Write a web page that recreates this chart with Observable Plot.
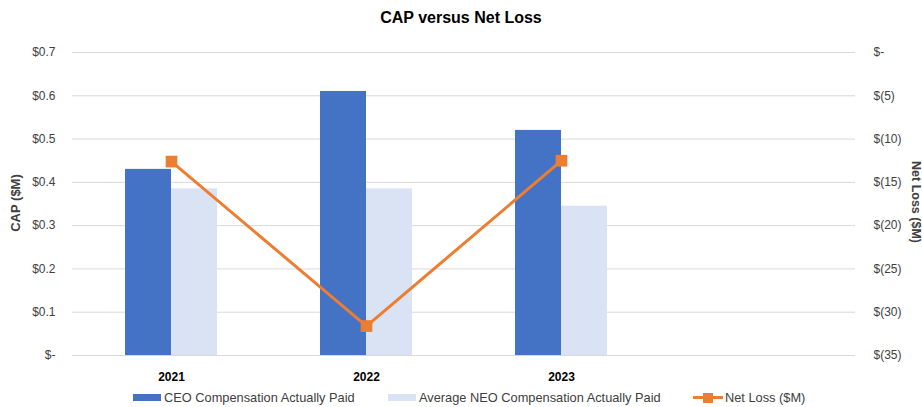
<!DOCTYPE html>
<html>
<head>
<meta charset="utf-8">
<script src="https://cdn.jsdelivr.net/npm/d3@7"></script>
<script src="https://cdn.jsdelivr.net/npm/@observablehq/plot@0.6"></script>
<style>
  html, body { margin: 0; padding: 0; background: #fff; }
  body { width: 922px; height: 407px; position: relative; overflow: hidden; font-family: "Liberation Sans", Arial, sans-serif; color: #404040; }
  #title { position: absolute; top: 0; left: 0; width: 922px; height: 36px; line-height: 36px; text-align: center; font-weight: bold; font-size: 16px; color: #000; }
  #chart { position: absolute; top: 35px; left: 0; }
  .leg { position: absolute; top: 390px; font-size: 12.8px; height: 16px; line-height: 16px; white-space: nowrap; color: #404040; }
  .sw { position: absolute; }
</style>
</head>
<body>
<div id="title">CAP versus Net Loss</div>
<div id="chart"></div>
<div id="legend"></div>
<script>
const years = ["2021", "2022", "2023"];
const ceoCAP = [0.43, 0.61, 0.52];
const neoCAP = [0.385, 0.385, 0.345];
const netLoss = [-12.6, -31.6, -12.5];
const leftTicks = [0, 0.1, 0.2, 0.3, 0.4, 0.5, 0.6, 0.7];
const leftTickLabels = ["$-", "$0.1", "$0.2", "$0.3", "$0.4", "$0.5", "$0.6", "$0.7"];
const rightTickLabels = ["$(35)", "$(30)", "$(25)", "$(20)", "$(15)", "$(10)", "$(5)", "$-"];
const seriesNames = ["CEO Compensation Actually Paid", "Average NEO Compensation Actually Paid", "Net Loss ($M)"];

const colors = { ceo: "#4472C4", neo: "#DAE3F3", loss: "#ED7D31" };
const lossMax = 35, capMax = 0.7;
const toLeft = v => capMax + v * (capMax / lossMax);

const data = years.map((y, i) => ({ year: y, ceo: ceoCAP[i], neo: neoCAP[i], loss: netLoss[i] }));

const plot = Plot.plot({
  width: 922,
  height: 350,
  marginTop: 17,
  marginBottom: 30,
  marginLeft: 72,
  marginRight: 67,
  style: { fontFamily: "Liberation Sans, Arial, sans-serif", fontSize: "12px", color: "#404040", background: "transparent" },
  x: { domain: [...years, ""], padding: 0.765, paddingOuter: 0.3825, label: null },
  y: { domain: [0, capMax], label: null },
  marks: [
    Plot.gridY(leftTicks, { stroke: "#d9d9d9", strokeOpacity: 1, strokeWidth: 1 }),
    Plot.barY(data, { x: "year", y: "ceo", fill: colors.ceo, dx: -23 }),
    Plot.barY(data, { x: "year", y: "neo", fill: colors.neo, dx: 23 }),
    Plot.axisY(leftTicks, { anchor: "left", tickSize: 0, tickPadding: 17, tickFormat: (d, i) => leftTickLabels[i], label: null }),
    Plot.axisY(leftTicks, { anchor: "right", tickSize: 0, tickPadding: 18, textAnchor: "start", tickFormat: (d, i) => rightTickLabels[i], label: null }),
    Plot.axisX({ tickSize: 0, tickPadding: 17, fontWeight: "bold", fill: "#000", label: null }),
    Plot.line(data, { x: "year", y: d => toLeft(d.loss), stroke: colors.loss, strokeWidth: 3 }),
    Plot.dot(data, { x: "year", y: d => toLeft(d.loss), symbol: "square", r: 6.6, fill: colors.loss, stroke: "none" }),
    Plot.text(["CAP ($M)"], { frameAnchor: "left", textAnchor: "middle", dx: -57, dy: -1, rotate: -90, fontWeight: "bold", fontSize: 13, fill: "#404040" }),
    Plot.text(["Net Loss ($M)"], { frameAnchor: "right", textAnchor: "middle", dx: 60, dy: -2, rotate: 90, fontWeight: "bold", fontSize: 12.5, fill: "#404040" })
  ]
});
document.getElementById("chart").appendChild(plot);

// legend
const legend = document.getElementById("legend");
const items = [
  { name: seriesNames[0], kind: "bar", color: colors.ceo, x: 133 },
  { name: seriesNames[1], kind: "bar", color: colors.neo, x: 388 },
  { name: seriesNames[2], kind: "line", color: colors.loss, x: 693 }
];
for (const it of items) {
  const el = document.createElement("div");
  el.className = "leg";
  el.style.left = it.x + "px";
  if (it.kind === "bar") {
    el.innerHTML = `<span class="sw" style="left:0;top:4px;width:28px;height:7px;background:${it.color}"></span><span style="margin-left:31px">${it.name}</span>`;
  } else {
    el.innerHTML = `<span class="sw" style="left:0;top:6px;width:30px;height:3px;background:${it.color}"></span><span class="sw" style="left:10px;top:2.5px;width:10px;height:10px;background:${it.color}"></span><span style="margin-left:32px">${it.name}</span>`;
  }
  legend.appendChild(el);
}
</script>
</body>
</html>
